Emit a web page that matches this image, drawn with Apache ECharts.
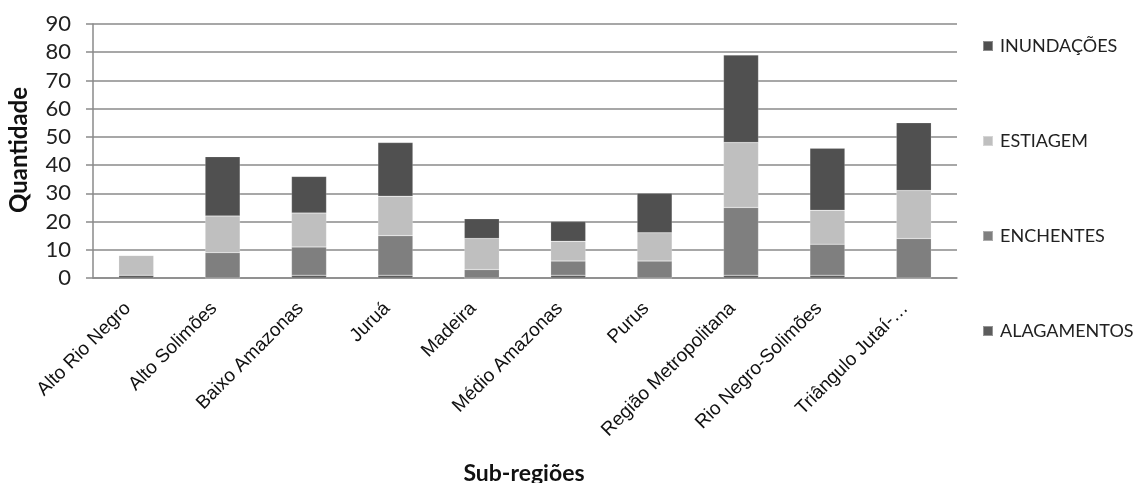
<!DOCTYPE html>
<html>
<head>
<meta charset="utf-8">
<script src="https://cdn.jsdelivr.net/npm/echarts@6/dist/echarts.min.js"></script>
<style>
  html, body { margin: 0; padding: 0; background: #fff; }
  #chart { width: 1133px; height: 483px; }
</style>
</head>
<body>
<div id="chart"></div>
<script>
// Sub-regions of Amazonas and number of recorded events by type
const categories = [
  'Alto Rio Negro', 'Alto Solimões', 'Baixo Amazonas', 'Juruá', 'Madeira',
  'Médio Amazonas', 'Purus', 'Região Metropolitana', 'Rio Negro-Solimões', 'Triângulo Jutaí-…'
];
const alagamentos = [1, 0, 1, 1, 0, 1, 0, 1, 1, 0];
const enchentes   = [0, 9, 10, 14, 3, 5, 6, 24, 11, 14];
const estiagem    = [7, 13, 12, 14, 11, 7, 10, 23, 12, 17];
const inundacoes  = [0, 21, 13, 19, 7, 7, 14, 31, 22, 24];
const yTicks = [0, 10, 20, 30, 40, 50, 60, 70, 80, 90];

const colors = {
  ALAGAMENTOS: '#5c5c5c',
  ENCHENTES: '#7f7f7f',
  ESTIAGEM: '#bfbfbf',
  'INUNDAÇÕES': '#505050'
};

function barSeries(name, data) {
  return {
    name: name,
    type: 'bar',
    stack: 'total',
    barWidth: 35,
    data: data,
    itemStyle: { color: colors[name], borderColor: 'rgba(255,255,255,0.35)', borderWidth: 0.5 },
    emphasis: { disabled: true }
  };
}

const chart = echarts.init(document.getElementById('chart'), null, { renderer: 'canvas' });
chart.setOption({
  animation: false,
  grid: { left: 93, right: 176, top: 24, bottom: 205 },
  legend: {
    orient: 'vertical',
    left: 977,
    top: 32,
    itemWidth: 10,
    itemHeight: 10,
    itemGap: 77,
    icon: 'rect',
    data: ['INUNDAÇÕES', 'ESTIAGEM', 'ENCHENTES', 'ALAGAMENTOS'],
    textStyle: { fontFamily: 'Lato', fontSize: 18, color: '#222', padding: [0, 0, 0, 2] }
  },
  xAxis: {
    type: 'category',
    data: categories,
    axisLine: { lineStyle: { color: '#8a8a8a', width: 1.5 } },
    axisTick: { show: false },
    axisLabel: {
      rotate: 45,
      interval: 0,
      margin: 19,
      padding: [0, 12, 0, 0],
      fontFamily: 'Liberation Sans',
      fontSize: 19,
      color: '#111'
    }
  },
  yAxis: {
    type: 'value',
    min: 0,
    max: 90,
    interval: 10,
    axisLine: { show: true, lineStyle: { color: '#8a8a8a', width: 1.5 } },
    axisTick: { show: true, length: 7, lineStyle: { color: '#8a8a8a', width: 1.5 } },
    splitLine: { lineStyle: { color: '#8a8a8a', width: 1.5 } },
    axisLabel: {
      margin: 22,
      fontFamily: 'Lato',
      fontSize: 22,
      color: '#222',
      formatter: function (v) { return yTicks.indexOf(v) >= 0 ? String(v) : ''; }
    }
  },
  graphic: [
    {
      type: 'text',
      x: 19,
      y: 150,
      rotation: Math.PI / 2,
      style: {
        text: 'Quantidade',
        fontFamily: 'Lato',
        fontWeight: 'bold',
        fontSize: 24,
        fill: '#111',
        align: 'center',
        verticalAlign: 'middle'
      }
    },
    {
      type: 'text',
      x: 524,
      y: 474,
      style: {
        text: 'Sub-regiões',
        fontFamily: 'Lato',
        fontWeight: 'bold',
        fontSize: 23,
        fill: '#111',
        align: 'center',
        verticalAlign: 'middle'
      }
    }
  ],
  series: [
    barSeries('ALAGAMENTOS', alagamentos),
    barSeries('ENCHENTES', enchentes),
    barSeries('ESTIAGEM', estiagem),
    barSeries('INUNDAÇÕES', inundacoes)
  ]
});
</script>
</body>
</html>
